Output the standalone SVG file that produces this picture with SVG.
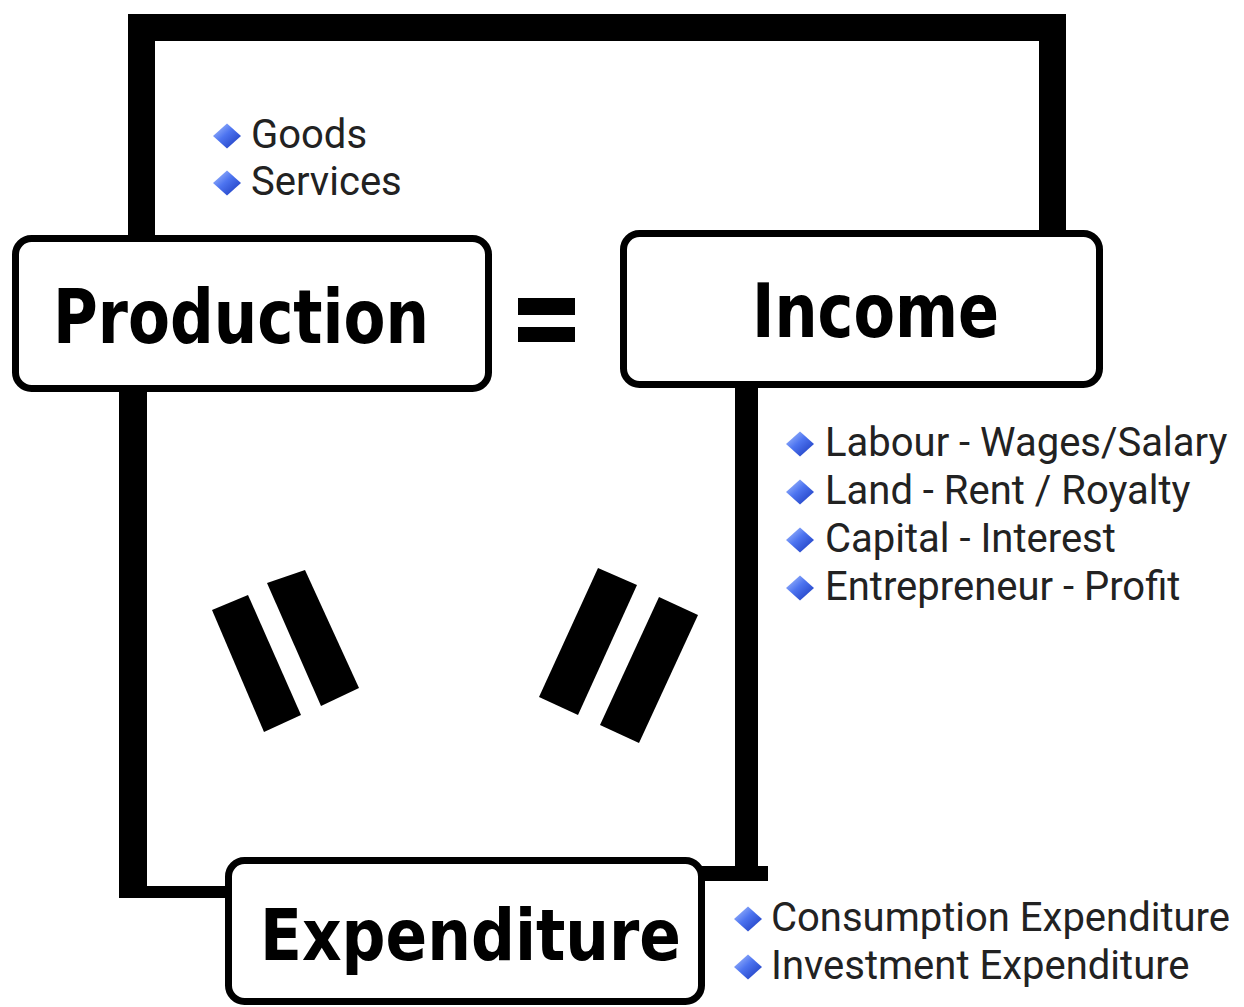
<svg xmlns="http://www.w3.org/2000/svg" width="1244" height="1007" viewBox="0 0 1244 1007">
  <defs>
    <linearGradient id="gem" x1="0" y1="0" x2="1" y2="1">
      <stop offset="0" stop-color="#b3c9ff"/>
      <stop offset="0.45" stop-color="#4d74f0"/>
      <stop offset="1" stop-color="#1634b8"/>
    </linearGradient>
    <path id="dia" d="M0,-12.5 L14,0 L0,12.5 L-14,0 Z"/>
  </defs>
  <style>
    .box { fill: #ffffff; stroke: #000000; stroke-width: 7; }
    .line { fill: #000000; }
    .head { font-family: "DejaVu Sans Condensed", "DejaVu Sans", sans-serif; font-stretch: condensed; font-weight: bold; fill: #000000; }
    .item { font-family: Roboto, "Liberation Sans", sans-serif; font-size: 40px; fill: #222222; }
    .bullet { fill: url(#gem); }
  </style>
  <rect width="1244" height="1007" fill="#ffffff"/>

  <g id="connectors">
    <rect class="line" x="128" y="14" width="938" height="27"/>
    <rect class="line" x="128" y="14" width="27" height="224"/>
    <rect class="line" x="1039" y="14" width="27" height="220"/>
    <rect class="line" x="119" y="388" width="28" height="510"/>
    <rect class="line" x="119" y="886" width="115" height="12"/>
    <rect class="line" x="735" y="384" width="23" height="497"/>
    <rect class="line" x="700" y="866" width="68" height="15"/>
  </g>

  <g id="equals">
    <rect class="line" x="518" y="298" width="57" height="17"/>
    <rect class="line" x="518" y="327" width="57" height="15"/>
    <polygon class="line" points="212,610 248,595 301,715 264,732"/>
    <polygon class="line" points="267,583 305,570 359,688 321,706"/>
    <polygon class="line" points="598,568 637,585 578,715 539,697"/>
    <polygon class="line" points="659,597 698,615 639,743 600,725"/>
  </g>

  <g id="production">
    <rect class="box" x="15.5" y="238.5" width="473" height="150" rx="16"/>
    <text class="head" x="53" y="343" font-size="74" textLength="376" lengthAdjust="spacingAndGlyphs">Production</text>
  </g>

  <g id="income">
    <rect class="box" x="623.5" y="233.5" width="476" height="151" rx="16"/>
    <text class="head" x="752" y="337" font-size="75" textLength="247" lengthAdjust="spacingAndGlyphs">Income</text>
  </g>

  <g id="expenditure">
    <rect class="box" x="228.5" y="860.5" width="473" height="141" rx="16"/>
    <text class="head" x="260" y="960" font-size="72" textLength="421" lengthAdjust="spacingAndGlyphs">Expenditure</text>
  </g>

  <g id="production-items">
    <use href="#dia" class="bullet" x="227" y="136"/>
    <text class="item" x="251" y="148">Goods</text>
    <use href="#dia" class="bullet" x="227" y="183"/>
    <text class="item" x="251" y="195">Services</text>
  </g>

  <g id="income-items">
    <use href="#dia" class="bullet" x="800" y="444"/>
    <text class="item" x="825" y="456">Labour - Wages/Salary</text>
    <use href="#dia" class="bullet" x="800" y="492"/>
    <text class="item" x="825" y="504">Land - Rent / Royalty</text>
    <use href="#dia" class="bullet" x="800" y="540"/>
    <text class="item" x="825" y="552">Capital - Interest</text>
    <use href="#dia" class="bullet" x="800" y="588"/>
    <text class="item" x="825" y="600">Entrepreneur - Profit</text>
  </g>

  <g id="expenditure-items">
    <use href="#dia" class="bullet" x="748" y="919"/>
    <text class="item" x="771" y="931">Consumption Expenditure</text>
    <use href="#dia" class="bullet" x="748" y="967"/>
    <text class="item" x="771" y="979">Investment Expenditure</text>
  </g>
</svg>
